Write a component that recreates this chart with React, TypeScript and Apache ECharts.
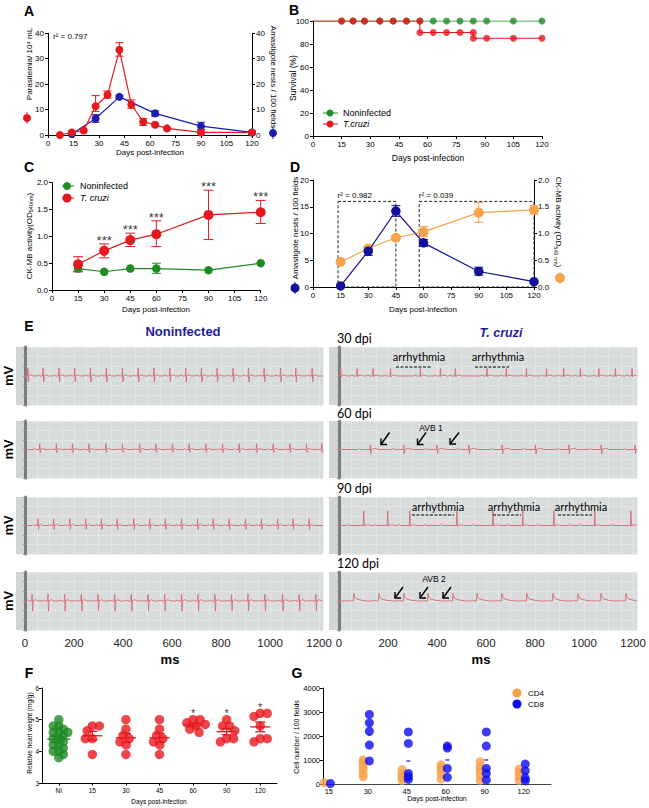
import React, { useEffect, useRef } from "react";
import * as echarts from "echarts";

const FONT = "'Liberation Sans', Arial, Helvetica, sans-serif";
const CALIBRI = "Lato, 'Open Sans', sans-serif";

const RED = "#e8161d";
const GREEN = "#1f8b24";
const BLUE_A = "#1c1cb0";
const NAVY = "#10109a";
const ORANGE = "#f7a34c";
const BLUE_G = "#0b0bf0";
const ECG_RED = "#d6727a";
const TITLE_BLUE = "#1d1d9c";
const PAPER = "#d9dcdc";
const PAPER_LINE = "#e7eaeb";

// ---------------- Panel A ----------------
const aRedDays = [7, 14, 21, 28, 35, 42, 49, 56, 63, 70, 90, 120];
const aParasitemia = [0, 1, 1.8, 11.3, 15.8, 33.5, 12, 5.2, 4, 2.6, 1, 1];
const aParasitemiaLo = [null, 0.5, null, 9.2, 14.5, 31, 10.5, 3.8, 3.5, null, 0.6, null];
const aParasitemiaHi = [null, 1.5, null, 15.5, 17.3, 36.3, 13.8, 6.5, 4.6, null, 1.5, null];
const aBlueDays = [14, 28, 42, 63, 90, 120];
const aNests = [0.4, 6.5, 15, 8.5, 3.5, 1];
const aNestsLo = [null, 5, 14.4, 7.5, 2.2, 0.5];
const aNestsHi = [null, 8, 15.6, 9.5, 5, 1.5];
const aR2 = "r² = 0.797";

// ---------------- Panel B ----------------
const bNonStepDays = [0, 120];
const bNonStepValues = [100];
const bNonMarkDays = [15, 21, 27, 35, 42, 49, 56, 63, 70, 77, 84, 91, 105, 120];
const bNonMarkValues = [100, 100, 100, 100, 100, 100, 100, 100, 100, 100, 100, 100, 100, 100];
const bTcStepDays = [0, 56, 84, 120];
const bTcStepValues = [100, 90, 85];
const bTcMarkDays = [15, 21, 27, 35, 42, 49, 56, 56, 63, 70, 77, 84, 84, 91, 105, 120];
const bTcMarkValues = [100, 100, 100, 100, 100, 100, 100, 90, 90, 90, 90, 90, 85, 85, 85, 85];

// ---------------- Panel C ----------------
const cDays = [15, 30, 45, 60, 90, 120];
const cTcruzi = [0.48, 0.73, 0.93, 1.04, 1.4, 1.45];
const cTcruziLo = [0.34, 0.6, 0.81, 0.81, 0.94, 1.24];
const cTcruziHi = [0.62, 0.86, 1.06, 1.29, 1.86, 1.67];
const cNon = [0.4, 0.34, 0.4, 0.4, 0.37, 0.5];
const cNonLo = [0.34, null, null, 0.31, null, null];
const cNonHi = [0.46, null, null, 0.5, null, null];
const cSignificance = ["", "***", "***", "***", "***", "***"];

// ---------------- Panel D ----------------
const dDays = [15, 30, 45, 60, 90, 120];
const dNests = [0.2, 6.7, 14.2, 8.25, 2.9, 1.0];
const dNestsLo = [null, 5.9, 13.2, 7.6, 2.2, null];
const dNestsHi = [null, 7.5, 15.2, 8.9, 3.7, null];
const dCkmb = [0.47, 0.72, 0.92, 1.03, 1.39, 1.44];
const dCkmbLo = [null, 0.67, null, 0.94, 1.21, 1.36];
const dCkmbHi = [null, 0.77, null, 1.13, 1.58, 1.52];
const dWindowStart = [13.6, 57.7];
const dWindowEnd = [45, 120];
const dWindowTop = 16;
const dWindowR2 = ["r² = 0.982", "r² = 0.039"];

// ---------------- Panel E (ECG) ----------------
const ECG_MAX = 1216;
const ecgTicks = [0, 200, 400, 600, 800, 1000, 1200];
const l1Beats = [13, 75, 140, 204, 268, 333, 399, 463, 527, 592, 657, 721, 785, 850, 913, 977, 1044, 1106, 1173];
const l2Beats = [61, 129, 195, 262, 331, 399, 469, 535, 603, 671, 739, 807, 875, 946, 1014, 1082, 1150, 1212];
const l3Beats = [54, 118, 184, 249, 313, 377, 445, 510, 574, 640, 705, 769, 834, 901, 966, 1032, 1095, 1160];
const l4Beats = [30, 95, 163, 231, 299, 367, 435, 503, 571, 640, 707, 776, 844, 911, 980, 1052, 1120, 1188];
const r1Beats = [8, 75, 140, 211, 333, 415, 476, 605, 684, 766, 848, 918, 986, 1061, 1129, 1197];
const r2Beats = [129, 265, 401, 531, 667, 803, 939, 1071, 1209];
const r3Beats = [102, 200, 290, 482, 629, 751, 878, 1045, 1192];
const r3PWaves = [40, 150, 245, 350, 415, 545, 690, 810, 940, 985, 1110];
const r4Beats = [61, 163, 265, 363, 465, 563, 665, 767, 873, 976, 1069, 1171];
// beat templates: [ms offset, mV]
const tplL1 = [[-24, 0], [-20, 0.06], [-16, 0], [-3, 0], [-1, 0.41], [1, -0.31], [3, 0], [10, 0.06], [20, 0]];
const tplL2 = [[-24, 0], [-20, 0.05], [-16, 0], [-3, 0], [-1, 0.31], [1, -0.16], [3, 0], [10, 0.05], [20, 0]];
const tplL3 = [[-24, 0], [-20, 0.05], [-16, 0], [-3, 0], [-1, 0.36], [1, -0.21], [3, 0], [10, 0.05], [20, 0]];
const tplL4 = [[-24, 0], [-20, 0.06], [-16, 0], [-3, 0], [-1, 0.35], [1, -0.52], [3, 0], [12, 0.07], [22, 0]];
const tplR1 = [[-26, 0], [-22, 0.06], [-18, 0], [-3, 0], [-1, 0.39], [1, -0.04], [3, 0], [12, 0.05], [24, 0]];
const tplR2 = [[-50, 0], [-45, 0.06], [-40, 0], [-3, 0], [-1, 0.24], [1, -0.22], [3, 0], [18, 0.06], [34, 0]];
const tplR3 = [[-3, 0], [-1, 0.78], [1, -0.04], [3, 0], [14, 0.04], [26, 0]];
const tplP = [[-4, 0], [0, 0.07], [4, 0]];
const tplR4 = [[-22, 0], [-18, 0.06], [-14, 0], [-2, 0], [0, 0.39], [3, 0.2], [12, 0.1], [30, 0.04], [55, 0]];

// ---------------- Panel F ----------------
const fCategories = ["NI", "15", "30", "45", "60", "90", "120"];
const fNI = [5.0, 4.8, 4.8, 4.7, 4.6, 4.6, 4.6, 4.5, 4.4, 4.4, 4.3, 4.2, 4.2, 4.1, 4.0, 4.0, 3.9, 3.8];
const f15 = [4.8, 4.8, 4.65, 4.4, 4.4, 3.9];
const f30 = [5.0, 4.7, 4.5, 4.4, 4.3, 4.2, 3.9];
const f45 = [5.0, 4.7, 4.5, 4.4, 4.3, 4.2, 3.9];
const f60 = [5.0, 5.0, 4.9, 4.85, 4.8, 4.7, 4.6];
const f90 = [5.0, 4.8, 4.8, 4.65, 4.4, 4.4, 4.3];
const f120 = [5.2, 5.2, 5.1, 4.8, 4.4, 4.4, 4.3];
const fSignificance = ["", "", "", "", "*", "*", "*"];

// ---------------- Panel G ----------------
const gCategories = ["15", "30", "45", "60", "90", "120"];
const gCD4 = [[60], [1000, 900, 750, 600, 420, 300], [600, 450, 350, 250, 150], [800, 700, 580, 400, 200], [930, 700, 550, 350, 150], [620, 480, 330, 150]];
const gCD8 = [[20], [2900, 2550, 2200, 1620, 960], [2170, 1690, 440, 300, 190], [1580, 1500, 650, 280], [2170, 1580, 650, 440, 170], [830, 550, 240, 140]];

// ---------------- helpers ----------------
function buildEcg(beats: number[], tpl: number[][], extra: number[] = [], extraTpl: number[][] = tplP) {
  const pts: number[][] = [[0, 0]];
  beats.forEach((b) => tpl.forEach(([dt, v]) => pts.push([b + dt, v])));
  extra.forEach((b) => extraTpl.forEach(([dt, v]) => pts.push([b + dt, v])));
  pts.push([ECG_MAX, 0]);
  return pts.filter((p) => p[0] >= 0 && p[0] <= ECG_MAX).sort((a, b) => a[0] - b[0]);
}

function stepPoints(days: number[], values: number[]) {
  const pts: number[][] = [];
  values.forEach((v, i) => {
    pts.push([days[i], v]);
    pts.push([days[i + 1], v]);
  });
  return pts;
}

function swarmOffsets(vals: number[], pxPerY: number, pxPerX: number, sep: number) {
  const order = vals.map((_, i) => i).sort((a, b) => vals[b] - vals[a]);
  const placed: number[][] = [];
  const out = new Array(vals.length).fill(0);
  let flip = 1;
  for (const i of order) {
    const y = vals[i] * pxPerY;
    const blocks: number[][] = [];
    for (const [px, py] of placed) {
      const dy = Math.abs(py - y);
      if (dy < sep) {
        const w = Math.sqrt(sep * sep - dy * dy);
        blocks.push([px - w, px + w]);
      }
    }
    const cands = [0];
    blocks.forEach(([a, b]) => cands.push(a, b));
    flip = -flip;
    cands.sort((a, b) => Math.abs(a) - Math.abs(b) || flip * (b - a));
    let x = 0;
    for (const c of cands) {
      if (blocks.every(([a, b]) => c <= a + 1e-6 || c >= b - 1e-6)) {
        x = c;
        break;
      }
    }
    placed.push([x, y]);
    out[i] = x / pxPerX;
  }
  return out;
}

const mean = (a: number[]) => a.reduce((s, v) => s + v, 0) / a.length;
const sem = (a: number[]) => {
  const m = mean(a);
  const sd = Math.sqrt(a.reduce((s, v) => s + (v - m) * (v - m), 0) / (a.length - 1));
  return sd / Math.sqrt(a.length);
};

function txt(text: string, x: number, y: number, o: any = {}) {
  const style: any = {
    text,
    fill: o.color || "#000",
    fontSize: o.size || 8,
    fontFamily: o.family || FONT,
    fontWeight: o.weight || "normal",
    fontStyle: o.italic ? "italic" : "normal",
    align: o.align || "center",
    verticalAlign: o.va || "middle",
    textAlign: o.align || "center",
    textVerticalAlign: o.va || "middle",
  };
  if (o.rich) style.rich = o.rich;
  return { type: "text", x, y, rotation: o.rot || 0, z: 100, silent: true, style };
}

function line(x1: number, y1: number, x2: number, y2: number, stroke: string, lw = 1, dash?: number[]) {
  const style: any = { stroke, lineWidth: lw };
  if (dash) style.lineDash = dash;
  return { type: "line", z: 100, silent: true, shape: { x1, y1, x2, y2 }, style };
}

function dot(cx: number, cy: number, r: number, fill: string) {
  return { type: "circle", z: 101, silent: true, shape: { cx, cy, r }, style: { fill } };
}

function arrow(tx: number, ty: number, sx: number, sy: number) {
  return [
    line(sx, sy, tx, ty, "#000", 1.4),
    {
      type: "polyline",
      z: 100,
      silent: true,
      shape: { points: [[tx, ty - 6], [tx, ty], [tx + 6, ty]] },
      style: { stroke: "#000", lineWidth: 1.4, fill: "none" },
    },
  ];
}

function errSeries(xi: number, yi: number, xs: number[], lo: any[], hi: any[], color: string, cap: number) {
  const data = xs.map((x, i) => (lo[i] == null ? null : [x, lo[i], hi[i]])).filter(Boolean);
  return {
    type: "custom",
    xAxisIndex: xi,
    yAxisIndex: yi,
    data,
    z: 3,
    silent: true,
    encode: { x: 0, y: [1, 2] },
    renderItem: (params: any, api: any) => {
      const x = api.value(0);
      const a = api.coord([x, api.value(1)]);
      const b = api.coord([x, api.value(2)]);
      const st = { stroke: color, lineWidth: 1 };
      return {
        type: "group",
        children: [
          { type: "line", shape: { x1: a[0], y1: a[1], x2: b[0], y2: b[1] }, style: st },
          { type: "line", shape: { x1: a[0] - cap, y1: a[1], x2: a[0] + cap, y2: a[1] }, style: st },
          { type: "line", shape: { x1: b[0] - cap, y1: b[1], x2: b[0] + cap, y2: b[1] }, style: st },
        ],
      };
    },
  };
}

function lineSeries(xi: number, yi: number, xs: number[], ys: number[], color: string, size: number, extra: any = {}) {
  return {
    type: "line",
    xAxisIndex: xi,
    yAxisIndex: yi,
    data: xs.map((x, i) => [x, ys[i]]),
    symbol: "circle",
    symbolSize: size,
    showSymbol: true,
    itemStyle: { color, borderWidth: 0 },
    lineStyle: { color, width: 1.2 },
    z: 4,
    silent: true,
    ...extra,
  };
}

function buildOption() {
  const grid: any[] = [];
  const xAxis: any[] = [];
  const yAxis: any[] = [];
  const series: any[] = [];
  const el: any[] = [];

  const addGrid = (l: number, t: number, r: number, b: number) => {
    grid.push({ left: l, top: t, width: r - l, height: b - t, containLabel: false, outerBoundsMode: "none", show: false });
    return grid.length - 1;
  };
  const plain = (v: number) => String(v);
  const axisStyle = (fontSize = 8, label: any = {}) => ({
    axisLine: { show: true, onZero: false, lineStyle: { color: "#000", width: 1 } },
    axisTick: { show: true, inside: false, length: 3, lineStyle: { color: "#000", width: 1 } },
    axisLabel: { color: "#000", fontSize, margin: 4, fontFamily: FONT, hideOverlap: false, formatter: plain, ...label },
    splitLine: { show: false },
  });
  const addX = (gi: number, o: any) => {
    xAxis.push({ type: "value", gridIndex: gi, ...o });
    return xAxis.length - 1;
  };
  const addY = (gi: number, o: any) => {
    yAxis.push({ type: "value", gridIndex: gi, ...o });
    return yAxis.length - 1;
  };
  const one = (v: number) => v.toFixed(1);

  // ===== A =====
  const gA = addGrid(48, 33.3, 252, 135);
  const xA = addX(gA, { min: 0, max: 120, interval: 15, ...axisStyle(8) });
  const yAL = addY(gA, { position: "left", min: 0, max: 40, interval: 10, ...axisStyle(8) });
  const yAR = addY(gA, { position: "right", min: 0, max: 40, interval: 10, ...axisStyle(8) });
  series.push(errSeries(xA, yAR, aBlueDays, aNestsLo, aNestsHi, BLUE_A, 4));
  series.push(lineSeries(xA, yAR, aBlueDays, aNests, BLUE_A, 8));
  series.push(errSeries(xA, yAL, aRedDays, aParasitemiaLo, aParasitemiaHi, RED, 4));
  series.push(lineSeries(xA, yAL, aRedDays, aParasitemia, RED, 8));
  el.push(txt("A", 29, 11, { size: 14, weight: "bold" }));
  el.push(txt(aR2, 53, 36, { align: "left", size: 8 }));
  el.push(txt("Parasitemia/ 10⁴ mL", 29, 64, { rot: Math.PI / 2, size: 8 }));
  el.push(line(27, 112, 27, 124, RED, 1), dot(27, 118, 4, RED));
  el.push(txt("Amastigote nests / 100 fields", 273, 77, { rot: -Math.PI / 2, size: 8 }));
  el.push(line(273, 127, 273, 139, BLUE_A, 1), dot(273, 133, 4, BLUE_A));
  el.push(txt("Days post-infection", 150, 152, { size: 8 }));

  // ===== B =====
  const gB = addGrid(313, 21, 542, 136);
  const xB = addX(gB, { min: 0, max: 120, interval: 15, ...axisStyle(8) });
  const yB = addY(gB, { min: 0, max: 100, interval: 20, ...axisStyle(8) });
  series.push({ type: "line", xAxisIndex: xB, yAxisIndex: yB, data: stepPoints(bNonStepDays, bNonStepValues), symbol: "none", lineStyle: { color: GREEN, width: 1 }, z: 3, silent: true });
  series.push({ type: "scatter", xAxisIndex: xB, yAxisIndex: yB, data: bNonMarkDays.map((d, i) => [d, bNonMarkValues[i]]), symbolSize: 7, itemStyle: { color: GREEN }, z: 4, silent: true });
  series.push({ type: "line", xAxisIndex: xB, yAxisIndex: yB, data: stepPoints(bTcStepDays, bTcStepValues), symbol: "none", lineStyle: { color: RED, width: 1 }, z: 5, silent: true });
  series.push({ type: "scatter", xAxisIndex: xB, yAxisIndex: yB, data: bTcMarkDays.map((d, i) => [d, bTcMarkValues[i]]), symbolSize: 7, itemStyle: { color: RED }, z: 6, silent: true });
  el.push(txt("B", 294, 10, { size: 14, weight: "bold" }));
  el.push(txt("Survival (%)", 293, 78, { rot: Math.PI / 2, size: 8.5 }));
  el.push(txt("Days post-infection", 428, 158, { size: 8.5 }));
  el.push(line(323, 113, 338, 113, GREEN, 1), dot(330, 113, 3.5, GREEN));
  el.push(txt("Noninfected", 343, 113, { align: "left", size: 9 }));
  el.push(line(323, 124, 338, 124, RED, 1), dot(330, 124, 3.5, RED));
  el.push(txt("T.cruzi", 343, 124, { align: "left", size: 9, italic: true }));

  // ===== C =====
  const gC = addGrid(52, 182.7, 260.7, 290);
  const xC = addX(gC, { min: 0, max: 120, interval: 15, ...axisStyle(8) });
  const yC = addY(gC, { min: 0, max: 2, interval: 0.5, ...axisStyle(8, { formatter: one }) });
  series.push(errSeries(xC, yC, cDays, cNonLo, cNonHi, GREEN, 4.5));
  series.push(lineSeries(xC, yC, cDays, cNon, GREEN, 8.5));
  series.push(errSeries(xC, yC, cDays, cTcruziLo, cTcruziHi, RED, 5));
  series.push(lineSeries(xC, yC, cDays, cTcruzi, RED, 10, { z: 5 }));
  series.push({
    type: "scatter", xAxisIndex: xC, yAxisIndex: yC, symbolSize: 0, silent: true, z: 6,
    data: cDays.map((d, i) => [d, cTcruziHi[i], cSignificance[i]]).filter((r) => r[2] !== ""),
    label: { show: true, position: "top", distance: -3, formatter: (p: any) => p.data[2], fontSize: 13, color: "#000", fontFamily: FONT },
  });
  el.push(txt("C", 29, 167, { size: 14, weight: "bold" }));
  el.push(line(62, 186, 74, 186, GREEN, 1), dot(67, 186, 4, GREEN));
  el.push(txt("Noninfected", 80, 186, { align: "left", size: 9 }));
  el.push(line(62, 198, 74, 198, RED, 1), dot(67, 198, 4.5, RED));
  el.push(txt("T. cruzi", 80, 198, { align: "left", size: 9, italic: true }));
  el.push(txt("CK-MB activity(OD{s|540nm})", 29, 236, { rot: Math.PI / 2, size: 8, rich: { s: { fontSize: 5.5, fontFamily: FONT, fill: "#000", padding: [4, 0, 0, 0] } } }));
  el.push(txt("Days post-infection", 156, 309, { size: 8 }));

  // ===== D =====
  const gD = addGrid(313, 180, 534, 287);
  const xD = addX(gD, { min: 0, max: 120, interval: 15, ...axisStyle(8) });
  const yDL = addY(gD, { position: "left", min: 0, max: 20, interval: 5, ...axisStyle(8) });
  const yDR = addY(gD, { position: "right", min: 0, max: 2, interval: 0.5, ...axisStyle(8, { formatter: one }) });
  series.push(errSeries(xD, yDR, dDays, dCkmbLo, dCkmbHi, ORANGE, 4.5));
  series.push(lineSeries(xD, yDR, dDays, dCkmb, ORANGE, 10));
  series.push(errSeries(xD, yDL, dDays, dNestsLo, dNestsHi, NAVY, 4.5));
  series.push(
    lineSeries(xD, yDL, dDays, dNests, NAVY, 9.5, {
      z: 5,
      markArea: {
        silent: true,
        itemStyle: { color: "rgba(0,0,0,0)", borderColor: "#222", borderWidth: 1, borderType: [3, 2] },
        label: { show: true, position: [0, -9], color: "#000", fontSize: 8, fontFamily: FONT },
        data: dWindowStart.map((s, i) => [
          { name: dWindowR2[i], coord: [s, dWindowTop] },
          { coord: [dWindowEnd[i], 0] },
        ]),
      },
    })
  );
  el.push(txt("D", 295, 167, { size: 14, weight: "bold" }));
  el.push(txt("Amastigote nests / 100 fields", 295, 228, { rot: Math.PI / 2, size: 8 }));
  el.push(line(295, 282, 295, 294, NAVY, 1), dot(295, 288, 4.5, NAVY));
  el.push(txt("CK-MB activity (OD{s|540 nm})", 558, 222, { rot: -Math.PI / 2, size: 8, rich: { s: { fontSize: 5.5, fontFamily: FONT, fill: "#000", padding: [4, 0, 0, 0] } } }));
  el.push(line(560, 272, 560, 284, ORANGE, 1), dot(560, 278, 5, ORANGE));
  el.push(txt("Days post-infection", 423, 309, { size: 8 }));

  // ===== E =====
  const rowTop = [347, 421, 497, 572];
  const rowBottom = [405, 478, 554, 630];
  const ecgTraces = [
    [buildEcg(l1Beats, tplL1), buildEcg(r1Beats, tplR1)],
    [buildEcg(l2Beats, tplL2), buildEcg(r2Beats, tplR2)],
    [buildEcg(l3Beats, tplL3), buildEcg(r3Beats, tplR3, r3PWaves)],
    [buildEcg(l4Beats, tplL4), buildEcg(r4Beats, tplR4)],
  ];
  const panelLeft = [16, 329];
  const gridLeft = [25, 339];
  const panelRight = [323, 637];
  for (let r = 0; r < 4; r++) {
    for (let c = 0; c < 2; c++) {
      const gi = addGrid(gridLeft[c], rowTop[r], panelRight[c], rowBottom[r]);
      el.push({ type: "rect", z: -100, silent: true, shape: { x: panelLeft[c], y: rowTop[r], width: panelRight[c] - panelLeft[c], height: rowBottom[r] - rowTop[r] }, style: { fill: PAPER } });
      el.push({ type: "rect", z: -99, silent: true, shape: { x: panelLeft[c], y: rowTop[r], width: gridLeft[c] - panelLeft[c], height: rowBottom[r] - rowTop[r] }, style: { fill: "#d2d5d5" } });
      const xi = addX(gi, {
        min: 0, max: ECG_MAX, interval: 200,
        axisLine: { show: false }, axisTick: { show: false },
        axisLabel: { show: r === 3, customValues: ecgTicks, formatter: plain, fontSize: 11.5, color: "#222", margin: 7, fontFamily: FONT, hideOverlap: false },
        splitLine: { show: true, lineStyle: { color: PAPER_LINE, width: 0.8 } },
        minorTick: { show: false, splitNumber: 4 },
        minorSplitLine: { show: true, lineStyle: { color: PAPER_LINE, width: 0.8 } },
      });
      const yi = addY(gi, {
        min: -1.5, max: 1.5, interval: 0.5,
        axisLine: { show: true, onZero: false, lineStyle: { color: "#7c7c7c", width: 3 } },
        axisTick: { show: true, length: 2, lineStyle: { color: "#9a9a9a" } },
        axisLabel: { show: false },
        splitLine: { show: true, lineStyle: { color: PAPER_LINE, width: 0.8 } },
      });
      series.push({ type: "line", xAxisIndex: xi, yAxisIndex: yi, data: ecgTraces[r][c], symbol: "none", showSymbol: false, lineStyle: { color: ECG_RED, width: 1 }, z: 3, silent: true });
    }
    el.push(txt("mV", 8, (rowTop[r] + rowBottom[r]) / 2, { rot: Math.PI / 2, size: 13, weight: "bold" }));
  }
  el.push(txt("E", 29, 326, { size: 14, weight: "bold" }));
  el.push(txt("Noninfected", 183, 331, { size: 13, weight: "bold", color: TITLE_BLUE }));
  el.push(txt("T. cruzi", 501, 333, { size: 12.5, weight: "bold", italic: true, color: TITLE_BLUE }));
  el.push(txt("30 dpi", 337, 338, { align: "left", size: 12.5, family: CALIBRI }));
  el.push(txt("60 dpi", 337, 413, { align: "left", size: 12.5, family: CALIBRI }));
  el.push(txt("90 dpi", 337, 488, { align: "left", size: 12.5, family: CALIBRI }));
  el.push(txt("120 dpi", 337, 563, { align: "left", size: 12.5, family: CALIBRI }));
  // 30 dpi annotations
  el.push(txt("arrhythmia", 419, 356, { size: 11, family: CALIBRI }));
  el.push(txt("arrhythmia", 498, 356, { size: 11, family: CALIBRI }));
  el.push(line(396, 367, 431, 367, "#000", 1.2, [3, 1.5]));
  el.push(line(475, 367, 509, 367, "#000", 1.2, [3, 1.5]));
  // 60 dpi
  el.push(txt("AVB 1", 431, 428, { size: 8.5 }));
  el.push(...arrow(381, 444.5, 389.5, 432.5), ...arrow(417.5, 444.5, 426, 432.5), ...arrow(450, 444, 459, 432.5));
  // 90 dpi
  el.push(txt("arrhythmia", 438, 506, { size: 11, family: CALIBRI }));
  el.push(txt("arrhythmia", 514, 506, { size: 11, family: CALIBRI }));
  el.push(txt("arrhythmia", 581, 506, { size: 11, family: CALIBRI }));
  el.push(line(412, 515, 454, 515, "#000", 1.2, [3, 1.5]));
  el.push(line(493, 515, 521, 515, "#000", 1.2, [3, 1.5]));
  el.push(line(558, 515, 592, 515, "#000", 1.2, [3, 1.5]));
  // 120 dpi
  el.push(txt("AVB 2", 434, 579, { size: 8.5 }));
  el.push(...arrow(395, 598, 403, 587), ...arrow(420, 598, 428, 587), ...arrow(443, 598, 451, 587));
  el.push(txt("ms", 170, 659, { size: 13, weight: "bold" }));
  el.push(txt("ms", 481, 659, { size: 13, weight: "bold" }));

  // ===== F =====
  const gF = addGrid(42, 688, 277, 783);
  const fIdx = fCategories.map((_, i) => i);
  const xF = addX(gF, {
    min: -0.5, max: 6.5,
    axisLine: { show: true, onZero: false, lineStyle: { color: "#000", width: 1 } },
    axisTick: { show: true, length: 2.5, customValues: fIdx, lineStyle: { color: "#000" } },
    axisLabel: { customValues: fIdx, formatter: (v: number) => fCategories[Math.round(v)], fontSize: 6.5, color: "#000", margin: 4, fontFamily: FONT, hideOverlap: false },
    splitLine: { show: false },
  });
  const yF = addY(gF, { min: 3, max: 6, interval: 1, ...axisStyle(6.5, { margin: 3 }) });
  const fGroups = [fNI, f15, f30, f45, f60, f90, f120];
  fGroups.forEach((vals, gi) => {
    const color = gi === 0 ? GREEN : RED;
    const offs = swarmOffsets(vals, 95 / 3, 235 / 7, gi === 0 ? 5.5 : 7);
    series.push({ type: "scatter", xAxisIndex: xF, yAxisIndex: yF, data: vals.map((v, i) => [gi + offs[i], v]), symbolSize: 9.5, itemStyle: { color }, z: 4, silent: true });
  });
  const fStats = fGroups.map((vals, gi) => [gi, mean(vals), sem(vals)]);
  series.push({
    type: "custom", xAxisIndex: xF, yAxisIndex: yF, data: fStats, z: 6, silent: true, encode: { x: 0, y: 1 },
    renderItem: (params: any, api: any) => {
      const i = api.value(0);
      const m = api.coord([i, api.value(1)]);
      const up = api.coord([i, api.value(1) + api.value(2)]);
      const dn = api.coord([i, api.value(1) - api.value(2)]);
      const color = i === 0 ? GREEN : RED;
      const hm = i === 0 ? 11.5 : 10;
      const hs = i === 0 ? 6 : 5;
      const st = { stroke: color, lineWidth: 1.3 };
      return {
        type: "group",
        children: [
          { type: "line", shape: { x1: m[0] - hm, y1: m[1], x2: m[0] + hm, y2: m[1] }, style: st },
          { type: "line", shape: { x1: up[0] - hs, y1: up[1], x2: up[0] + hs, y2: up[1] }, style: st },
          { type: "line", shape: { x1: dn[0] - hs, y1: dn[1], x2: dn[0] + hs, y2: dn[1] }, style: st },
          { type: "line", shape: { x1: m[0], y1: up[1], x2: m[0], y2: dn[1] }, style: st },
        ],
      };
    },
  });
  series.push({
    type: "scatter", xAxisIndex: xF, yAxisIndex: yF, symbolSize: 0, silent: true, z: 7,
    data: fGroups.map((vals, gi) => [gi, Math.max(...vals), fSignificance[gi]]).filter((r) => r[2] !== ""),
    label: { show: true, position: "top", distance: 1, formatter: (p: any) => p.data[2], fontSize: 11, color: "#000", fontFamily: FONT },
  });
  el.push(txt("F", 29, 673, { size: 14, weight: "bold" }));
  el.push(txt("Relative heart weight (mg/g)", 29, 733, { rot: Math.PI / 2, size: 6.5 }));
  el.push(txt("Days post-infection", 159, 801, { size: 6.5 }));

  // ===== G =====
  const gG = addGrid(323, 688, 551, 784);
  const gIdx = gCategories.map((_, i) => i);
  const xG = addX(gG, {
    min: -0.15, max: 5.7,
    axisLine: { show: true, onZero: false, lineStyle: { color: "#444", width: 1.2 } },
    axisTick: { show: false },
    axisLabel: { customValues: gIdx, formatter: (v: number) => gCategories[Math.round(v)], fontSize: 7.5, color: "#000", margin: 3, fontFamily: FONT, hideOverlap: false },
    splitLine: { show: false },
  });
  const yG = addY(gG, { min: 0, max: 4000, interval: 1000, ...axisStyle(7.5, { margin: 3 }) });
  const cd4Off = -0.12;
  const cd8Off = 0.04;
  series.push({ type: "scatter", xAxisIndex: xG, yAxisIndex: yG, data: gCD4.flatMap((vals, i) => vals.map((v) => [i + cd4Off, v])), symbolSize: 9, itemStyle: { color: ORANGE }, z: 4, silent: true });
  series.push({ type: "scatter", xAxisIndex: xG, yAxisIndex: yG, data: gCD8.flatMap((vals, i) => vals.map((v) => [i + cd8Off, v])), symbolSize: 9, itemStyle: { color: BLUE_G }, z: 5, silent: true });
  series.push({ type: "scatter", xAxisIndex: xG, yAxisIndex: yG, data: gCD8.map((vals, i) => [i + cd8Off, mean(vals)]).filter((_, i) => i > 0), symbol: "rect", symbolSize: [4, 1.5], itemStyle: { color: BLUE_G }, z: 6, silent: true });
  el.push(txt("G", 297, 673, { size: 14, weight: "bold" }));
  el.push(txt("Cell number / 100 fields", 296, 737, { rot: Math.PI / 2, size: 7 }));
  el.push(txt("Days post-infection", 437, 798, { size: 7 }));
  el.push(dot(517, 693, 4.5, ORANGE), txt("CD4", 528, 693, { align: "left", size: 8 }));
  el.push(dot(517, 704, 4.5, BLUE_G), txt("CD8", 528, 704, { align: "left", size: 8 }));

  return {
    animation: false,
    textStyle: { fontFamily: FONT },
    grid,
    xAxis,
    yAxis,
    series,
    graphic: { elements: el },
  };
}

export default function App() {
  const ref = useRef<HTMLDivElement>(null);
  useEffect(() => {
    if (!ref.current) return;
    const chart = echarts.init(ref.current, null, { renderer: "svg" });
    chart.setOption(buildOption() as any);
    return () => chart.dispose();
  }, []);
  return (
    <div
      ref={ref}
      style={{ position: "absolute", left: 0, top: 0, width: 649, height: 808, background: "#fff" }}
    />
  );
}
